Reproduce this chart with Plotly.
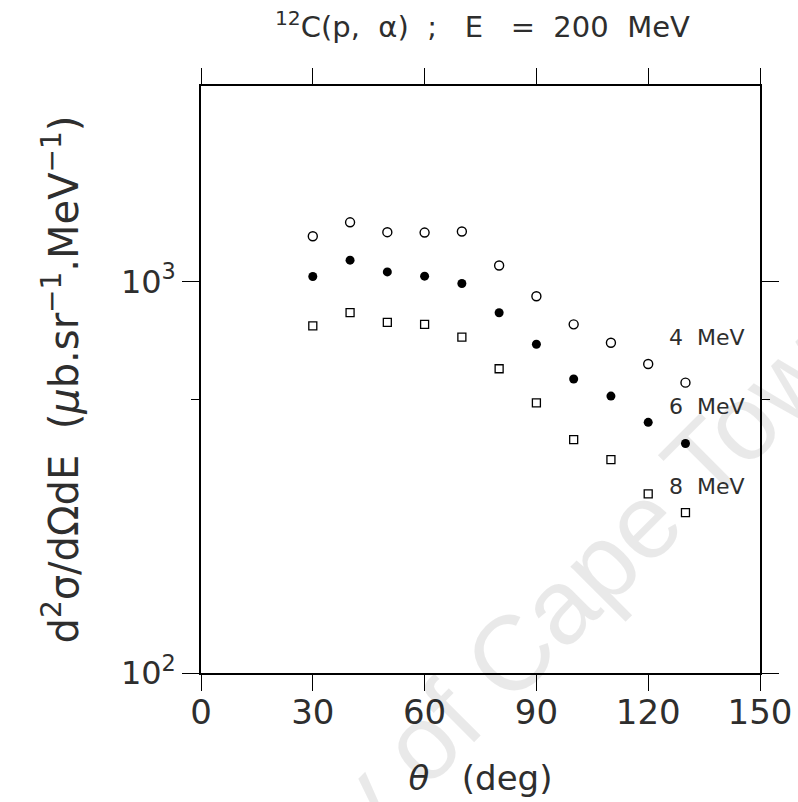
import math
import plotly.graph_objects as go

# Scattering angles (deg)
theta = [30, 40, 50, 60, 70, 80, 90, 100, 110, 120, 130]

# Double-differential cross sections (ub/sr/MeV) for three alpha energy bins
xs_4mev = [1306, 1418, 1338, 1335, 1343, 1100, 918, 778, 698, 616, 552]
xs_6mev = [1031, 1135, 1059, 1033, 989, 833, 692, 564, 510, 437, 386]
xs_8mev = [771, 833, 787, 778, 722, 599, 490, 395, 351, 287, 257]

series_labels = ["4  MeV", "6  MeV", "8  MeV"]
label_values = [718, 479, 300]

x_ticks = [0, 30, 60, 90, 120, 150]
y_ticks = [100, 1000]
y_tick_text = ["10<sup>2</sup>", "10<sup>3</sup>"]

FONT = "DejaVu Sans"
INK = "#2e2e2e"

fig = go.Figure()

fig.add_trace(go.Scatter(
    x=theta, y=xs_4mev, mode="markers", name="4 MeV",
    marker=dict(symbol="circle-open", size=9, color="black",
                line=dict(width=1.4, color="black")),
))
fig.add_trace(go.Scatter(
    x=theta, y=xs_6mev, mode="markers", name="6 MeV",
    marker=dict(symbol="circle", size=9, color="black"),
))
fig.add_trace(go.Scatter(
    x=theta, y=xs_8mev, mode="markers", name="8 MeV",
    marker=dict(symbol="square-open", size=8, color="black",
                line=dict(width=1.3, color="black")),
))

annotations = []
# faint diagonal watermark (translucent so marks underneath stay visible)
annotations.append(dict(
    text="University of Cape Town", xref="paper", yref="paper",
    x=0.451, y=-0.065, xanchor="center", yanchor="middle",
    textangle=-45, showarrow=False,
    font=dict(family="Liberation Sans", size=106, color="rgba(0,0,0,0.085)"),
))
# energy-bin labels (log axis: annotation y is given in log10 units)
for lab, val in zip(series_labels, label_values):
    annotations.append(dict(
        text=lab, x=146.6, y=math.log10(val), xref="x", yref="y",
        xanchor="right", yanchor="middle", showarrow=False,
        font=dict(family=FONT, size=22, color=INK),
    ))

fig.update_layout(
    width=798, height=802,
    margin=dict(l=201, r=38, t=86, b=129, autoexpand=False),
    paper_bgcolor="white", plot_bgcolor="white",
    showlegend=False,
    title=dict(
        text="<sup>12</sup>C(p,  \u03b1)  ;   E   =  200  MeV",
        x=0.6045, xanchor="center", y=0.966, yanchor="middle",
        font=dict(family=FONT, size=29, color=INK),
    ),
    annotations=annotations,
    xaxis=dict(
        range=[0, 150], tickvals=x_ticks, automargin=False,
        ticks="outside", ticklen=16, tickwidth=1.2, tickcolor="black",
        ticklabelstandoff=-8,
        showline=True, linecolor="black", linewidth=1.5, mirror="ticks",
        showgrid=False, zeroline=False,
        tickfont=dict(family=FONT, size=34, color=INK),
        title=dict(text="<i>\u03b8</i>   (deg)", standoff=36,
                   font=dict(family=FONT, size=34, color=INK)),
    ),
    yaxis=dict(
        type="log", range=[2, 3.5], automargin=False,
        tickvals=y_ticks, ticktext=y_tick_text,
        ticks="outside", ticklen=17, tickwidth=1.2, tickcolor="black",
        minor=dict(tickvals=[500], ticks="outside", ticklen=8,
                   tickwidth=1.2, tickcolor="black"),
        showline=True, linecolor="black", linewidth=1.5, mirror="ticks",
        showgrid=False, zeroline=False,
        tickfont=dict(family=FONT, size=32, color=INK),
        title=dict(
            text="d<sup>2</sup>\u03c3/d\u03a9dE  (<i>\u03bc</i>b.sr<sup>\u22121</sup>.MeV<sup>\u22121</sup>)",
            standoff=30,
            font=dict(family=FONT, size=40, color=INK)),
    ),
)

fig.write_html("out.html")
